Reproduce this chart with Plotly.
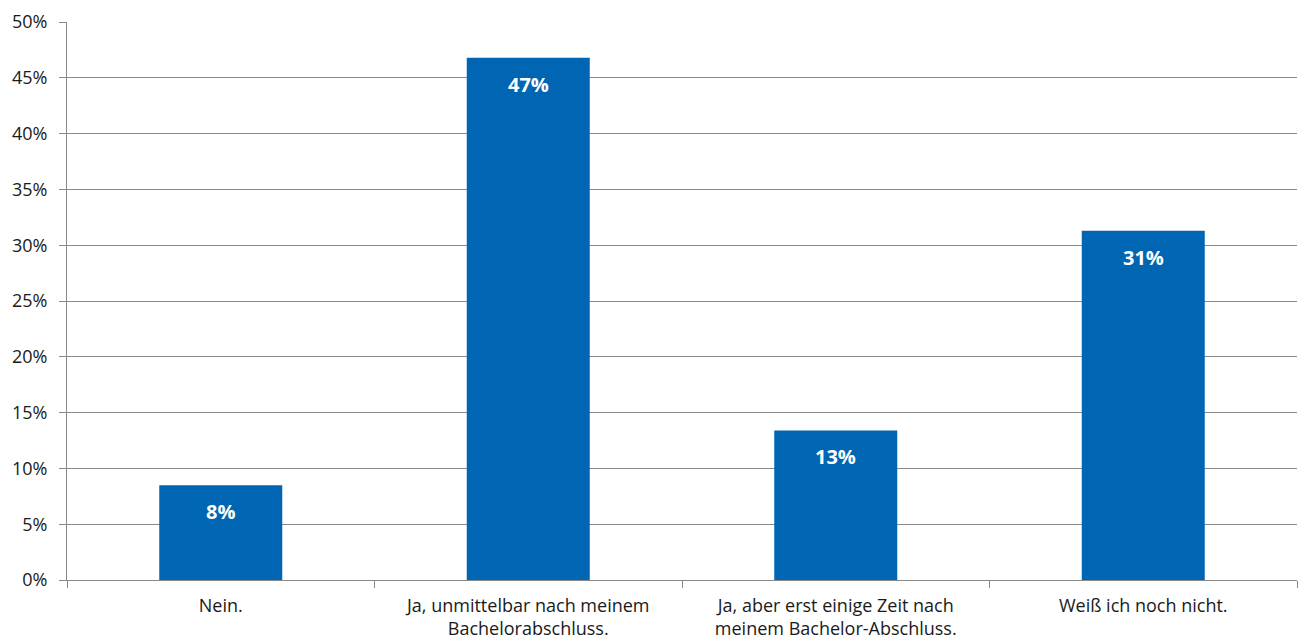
import plotly.graph_objects as go

categories = [
    "Nein.",
    "Ja, unmittelbar nach meinem<br>Bachelorabschluss.",
    "Ja, aber erst einige Zeit nach<br>meinem Bachelor-Abschluss.",
    "Weiß ich noch nicht.",
]
shares = [8.5, 46.8, 13.4, 31.3]
y_ticks = [0, 5, 10, 15, 20, 25, 30, 35, 40, 45, 50]
y_tick_labels = [f"{t}%" for t in y_ticks]

bar_color = "#0066B3"
grid_color = "#898989"
font_family = "Open Sans, Noto Sans, DejaVu Sans, sans-serif"

fig = go.Figure()
fig.add_trace(go.Bar(
    x=categories,
    y=shares,
    marker=dict(color=bar_color, line=dict(width=0)),
    hoverinfo="skip",
))

# value labels near the top of each bar
for cat, v in zip(categories, shares):
    fig.add_annotation(
        x=cat, y=v, xref="x", yref="y",
        text=f"<b>{round(v)}%</b>",
        showarrow=False, yanchor="top", yshift=-11,
        font=dict(family=font_family, size=20, color="white"),
    )

fig.update_layout(
    width=1298, height=641,
    margin=dict(l=67, r=1, t=22, b=61),
    paper_bgcolor="white", plot_bgcolor="white",
    bargap=0.6,
    showlegend=False,
    font=dict(family=font_family, size=18, color="#1A1A1A"),
)
fig.update_yaxes(
    range=[0, 50],
    tickvals=y_ticks, ticktext=y_tick_labels,
    showgrid=True, gridcolor=grid_color, gridwidth=1,
    showline=True, linecolor=grid_color, linewidth=1,
    ticks="outside", ticklen=7, tickcolor=grid_color,
    ticklabelstandoff=8,
    zeroline=False,
    tickfont=dict(size=18, color="#1A1A1A"),
)
fig.update_xaxes(
    showline=True, linecolor=grid_color, linewidth=1,
    ticks="outside", ticklen=7, tickcolor=grid_color,
    tickson="boundaries",
    ticklabelstandoff=9,
    showgrid=False,
    tickfont=dict(size=18, color="#1A1A1A"),
)

fig.write_html("out.html")
